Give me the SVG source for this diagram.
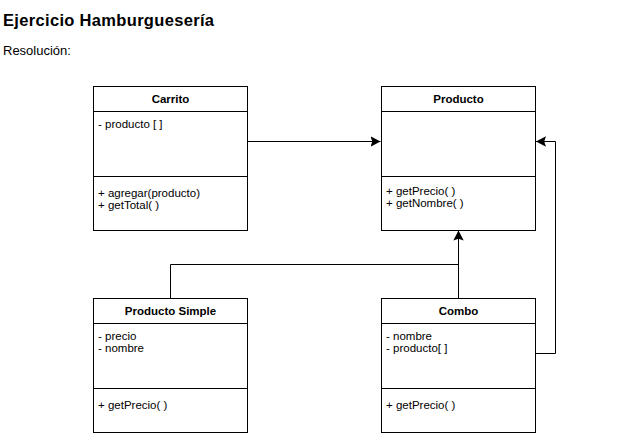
<svg xmlns="http://www.w3.org/2000/svg" width="618" height="435" viewBox="0 0 618 435">
<style>
text{font-family:"Liberation Sans",Arial,sans-serif;fill:#000}
.title{font-size:16.5px;font-weight:bold}
.sub{font-size:13px}
.cls{font-size:11.5px;font-weight:bold;text-anchor:middle}
.mem{font-size:11.5px}
.box{fill:#fff;stroke:#000;stroke-width:1}
.sep{stroke:#000;stroke-width:1}
.edge{fill:none;stroke:#000;stroke-width:1}
</style>
<defs>
<marker id="arr" markerUnits="userSpaceOnUse" viewBox="0 0 10 11" markerWidth="10" markerHeight="11" refX="10" refY="5.5" orient="auto">
<path d="M0,0.3 L10,5.5 L0,10.7 L1.8,5.5 Z" fill="#000"/>
</marker>
</defs>
<rect width="618" height="435" fill="#fff"/>
<text class="title" x="3" y="25.5" textLength="211" lengthAdjust="spacing">Ejercicio Hamburguesería</text>
<text class="sub" x="3" y="55">Resolución:</text>

<g id="edges">
<path class="edge" d="M247.5,141.5 H380.5" marker-end="url(#arr)"/>
<path class="edge" d="M458.5,298.5 V230.5" marker-end="url(#arr)"/>
<path class="edge" d="M170.5,298.5 V264.5 H458.5"/>
<path class="edge" d="M535.5,353.5 H555.5 V141.5 H536" marker-end="url(#arr)"/>
</g>

<g id="carrito">
<rect class="box" x="93.5" y="86.5" width="154" height="144"/>
<line class="sep" x1="93.5" y1="111.5" x2="247.5" y2="111.5"/>
<line class="sep" x1="93.5" y1="176.5" x2="247.5" y2="176.5"/>
<text class="cls" x="170.5" y="103">Carrito</text>
<text class="mem" x="98" y="128">- producto [ ]</text>
<text class="mem" x="98" y="197">+ agregar(producto)</text>
<text class="mem" x="98" y="209">+ getTotal( )</text>
</g>

<g id="producto">
<rect class="box" x="381.5" y="86.5" width="154" height="144"/>
<line class="sep" x1="381.5" y1="111.5" x2="535.5" y2="111.5"/>
<line class="sep" x1="381.5" y1="176.5" x2="535.5" y2="176.5"/>
<text class="cls" x="458.5" y="103">Producto</text>
<text class="mem" x="386" y="195">+ getPrecio( )</text>
<text class="mem" x="386" y="207">+ getNombre( )</text>
</g>

<g id="producto-simple">
<rect class="box" x="93.5" y="298.5" width="154" height="134"/>
<line class="sep" x1="93.5" y1="323.5" x2="247.5" y2="323.5"/>
<line class="sep" x1="93.5" y1="388.5" x2="247.5" y2="388.5"/>
<text class="cls" x="170.5" y="315">Producto Simple</text>
<text class="mem" x="98" y="340">- precio</text>
<text class="mem" x="98" y="352">- nombre</text>
<text class="mem" x="98" y="409">+ getPrecio( )</text>
</g>

<g id="combo">
<rect class="box" x="381.5" y="298.5" width="154" height="134"/>
<line class="sep" x1="381.5" y1="323.5" x2="535.5" y2="323.5"/>
<line class="sep" x1="381.5" y1="388.5" x2="535.5" y2="388.5"/>
<text class="cls" x="458.5" y="315">Combo</text>
<text class="mem" x="386" y="340">- nombre</text>
<text class="mem" x="386" y="352">- producto[ ]</text>
<text class="mem" x="386" y="409">+ getPrecio( )</text>
</g>
</svg>
